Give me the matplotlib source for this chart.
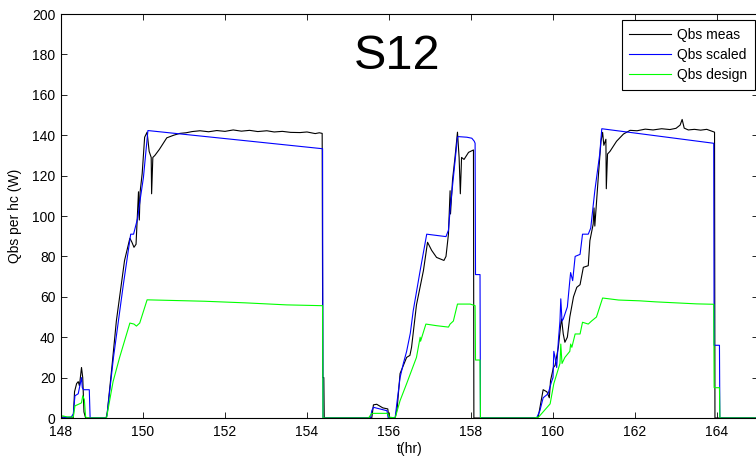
import matplotlib
matplotlib.use("Agg")
import matplotlib.pyplot as plt

plt.rcParams['font.family'] = ['Liberation Sans', 'DejaVu Sans']

# ---- data ----
t_meas = [148.00, 148.05, 148.30, 148.33, 148.38, 148.42, 148.45, 148.50, 148.53, 148.56, 148.60,
          149.10, 149.13, 149.20, 149.25, 149.35, 149.45, 149.55, 149.68, 149.73, 149.78, 149.83,
          149.87, 149.89, 149.91, 149.93, 149.98, 150.04, 150.10, 150.15, 150.20, 150.21, 150.24,
          150.29, 150.40, 150.58, 150.75, 150.90, 151.05, 151.20, 151.39, 151.60, 151.80, 152.00,
          152.20, 152.40, 152.60, 152.80, 153.02, 153.20, 153.40, 153.60, 153.83, 154.00, 154.20,
          154.30, 154.37, 154.385, 154.41, 154.42,
          155.58, 155.62, 155.70, 155.85, 155.97, 156.00,
          156.15, 156.20, 156.27, 156.43, 156.51, 156.55, 156.67, 156.84, 156.94, 157.04, 157.16,
          157.34, 157.39, 157.45, 157.49, 157.50, 157.55, 157.61, 157.67, 157.71, 157.74, 157.77,
          157.83, 157.94, 158.06, 158.07,
          159.60, 159.64, 159.76, 159.85, 159.91, 159.94, 160.01, 160.05, 160.13, 160.19, 160.21,
          160.25, 160.29, 160.35, 160.41, 160.50, 160.58, 160.66, 160.74, 160.86, 160.90, 160.98,
          161.00, 161.02, 161.11, 161.17, 161.21, 161.24, 161.29, 161.30, 161.33, 161.39, 161.55,
          161.72, 161.88, 162.05, 162.25, 162.44, 162.65, 162.85, 163.00, 163.10, 163.15, 163.20,
          163.30, 163.45, 163.60, 163.75, 163.90, 163.94, 163.95, 165.00]
q_meas = [0.0, 0.5, 0.0, 13.0, 17.0, 18.0, 16.0, 25.0, 20.0, 3.0, 0.0,
          0.0, 3.0, 17.0, 27.0, 48.0, 63.0, 78.0, 89.0, 87.0, 84.5, 86.0,
          104.0, 112.0, 98.0, 112.0, 121.0, 139.0, 141.5, 132.0, 129.0, 111.0, 129.0,
          130.0, 133.0, 138.7, 140.0, 140.9, 141.2, 141.8, 142.2, 141.7, 142.3, 141.9,
          142.6, 142.0, 142.4, 141.8, 142.2, 141.6, 141.9, 141.4, 141.3, 141.6, 140.8,
          141.2, 140.9, 20.0, 20.0, 0.0,
          0.0, 6.5, 6.8, 5.0, 4.5, 0.0,
          0.0, 5.0, 22.0, 30.0, 31.0, 35.0, 56.0, 73.0, 87.0, 83.0, 79.5,
          78.0, 80.0, 91.0, 112.5, 101.0, 118.0, 129.0, 141.5, 129.0, 111.0, 129.0,
          128.0, 131.5, 132.7, 0.0,
          0.0, 0.5, 14.0, 13.0, 10.0, 18.5, 25.0, 26.0, 35.0, 46.5, 49.0,
          41.6, 37.5, 40.0, 50.0, 60.0, 64.7, 66.0, 74.6, 75.4, 87.8, 96.0,
          104.0, 95.0, 120.8, 137.0, 141.4, 135.0, 138.0, 113.5, 130.7, 132.0, 137.0,
          140.6, 142.4, 142.2, 143.0, 142.6, 143.2, 142.8, 143.4, 145.0, 147.8, 143.5,
          142.6, 142.9, 142.5, 142.9, 141.8, 141.5, 0.0, 0.0]

t_scaled = [148.00, 148.25, 148.30, 148.34, 148.42, 148.47, 148.50, 148.52, 148.55, 148.69, 148.71,
            149.10, 149.12, 149.28, 149.52, 149.70, 149.77, 149.87, 149.93, 150.01, 150.12,
            154.38, 154.39,
            155.55, 155.58, 155.62, 155.95, 155.98,
            156.15, 156.19, 156.27, 156.35, 156.43, 156.52, 156.59, 156.76, 156.92, 157.39, 157.45,
            157.49, 157.57, 157.67, 157.69, 157.90, 158.02, 158.08, 158.10, 158.11, 158.22, 158.23,
            159.60, 159.68, 159.76, 159.88, 159.96, 160.00, 160.02, 160.05, 160.09, 160.13, 160.17,
            160.19, 160.22, 160.25, 160.35, 160.41, 160.43, 160.48, 160.54, 160.66, 160.72, 160.86,
            160.92, 161.02, 161.14, 161.19, 163.92, 163.93, 164.06, 164.07, 165.00]
q_scaled = [0.0, 0.5, 2.0, 11.0, 12.0, 17.0, 20.0, 15.0, 14.0, 14.0, 0.0,
            0.0, 1.0, 30.0, 66.0, 91.0, 91.0, 99.0, 108.0, 119.0, 142.3,
            133.3, 0.0,
            0.0, 3.6, 5.3, 3.6, 0.0,
            0.0, 7.0, 20.0, 27.0, 33.0, 42.0, 53.0, 73.0, 91.0, 89.8, 93.0,
            103.0, 119.0, 139.0, 139.3, 139.0, 138.5, 137.0, 136.0, 71.0, 71.0, 0.0,
            0.0, 3.6, 10.0, 12.0, 17.7, 20.0, 33.0, 30.0, 25.0, 38.0, 48.0,
            59.0, 48.0, 49.0, 55.0, 68.0, 72.0, 68.0, 80.0, 81.0, 91.0, 91.0,
            94.0, 112.5, 130.7, 143.2, 136.0, 36.0, 36.0, 0.0, 0.0]

t_design = [148.00, 148.05, 148.15, 148.30, 148.34, 148.45, 148.50, 148.53, 148.57, 148.60, 148.65,
            149.11, 149.27, 149.43, 149.68, 149.78, 149.84, 149.92, 150.10, 150.50, 151.50, 152.50,
            153.50, 154.38, 154.39,
            155.50, 155.58, 155.97, 156.00, 156.15, 156.27, 156.43, 156.67, 156.76, 156.77, 156.90,
            157.16, 157.45, 157.49, 157.57, 157.67, 157.98, 158.10, 158.11, 158.22, 158.23,
            159.55, 159.65, 159.93, 160.02, 160.17, 160.19, 160.22, 160.29, 160.41, 160.43, 160.46,
            160.54, 160.66, 160.72, 160.86, 160.94, 161.06, 161.21, 161.60, 162.12, 162.50, 163.00,
            163.50, 163.92, 163.93, 164.06, 164.07, 165.00]
q_design = [1.0, 1.0, 0.5, 0.5, 6.0, 7.0, 7.5, 11.0, 9.0, 0.5, 0.0,
            0.0, 18.0, 30.0, 47.0, 46.5, 45.5, 47.0, 58.5, 58.3, 57.8, 57.0,
            56.0, 55.6, 0.0,
            0.0, 2.3, 2.3, 0.5, 0.0, 8.6, 17.0, 30.0, 40.0, 38.0, 46.5,
            45.7, 45.0, 46.5, 48.0, 56.4, 56.4, 55.6, 28.7, 28.7, 0.0,
            0.0, 0.5, 7.0, 17.0, 27.0, 36.6, 27.0, 30.0, 33.0, 36.6, 35.0,
            41.6, 41.6, 47.4, 46.5, 48.0, 50.0, 59.4, 58.4, 58.0, 57.5, 57.0,
            56.5, 56.3, 15.0, 15.0, 0.0, 0.0]

series_labels = ['Qbs meas', 'Qbs scaled', 'Qbs design']
x_ticks = [148, 150, 152, 154, 156, 158, 160, 162, 164]
y_ticks = [0, 20, 40, 60, 80, 100, 120, 140, 160, 180, 200]

W, H = 756, 458
FS = 10
fig = plt.figure(figsize=(W / 100, H / 100), dpi=100)
ax = fig.add_axes([61 / W, 40 / H, 697 / W, 404 / H])

ax.plot(t_meas, q_meas, color='black', lw=0.8, label=series_labels[0])
ax.plot(t_scaled, q_scaled, color='#0000ff', lw=0.8, label=series_labels[1])
ax.plot(t_design, q_design, color='#00ff00', lw=0.8, label=series_labels[2])

ax.set_xlim(148, 165)
ax.set_ylim(0, 200)
ax.set_xticks(x_ticks)
ax.set_yticks(y_ticks)
ax.tick_params(direction='in', top=True, right=True, length=4, width=0.6,
               labelsize=FS)
ax.tick_params(axis='x', pad=5)
ax.tick_params(axis='y', pad=4)
for s in ax.spines.values():
    s.set_linewidth(0.8)

ax.set_xlabel('t(hr)', fontsize=FS, labelpad=2)
ax.set_ylabel('Qbs per hc (W)', fontsize=FS, labelpad=7)

ax.text(0.482, 0.894, 'S12', transform=ax.transAxes, fontsize=35,
        ha='center', va='center')

leg = ax.legend(loc='upper right', bbox_to_anchor=(755 / W, 1 - 20 / H),
                bbox_transform=fig.transFigure, borderaxespad=0,
                fancybox=False, fontsize=FS, handlelength=3.0,
                labelspacing=0.45, handletextpad=0.45, borderpad=0.55,
                framealpha=1)
leg.get_frame().set_edgecolor('black')
leg.get_frame().set_linewidth(0.8)

fig.savefig('out.png', dpi=100)
